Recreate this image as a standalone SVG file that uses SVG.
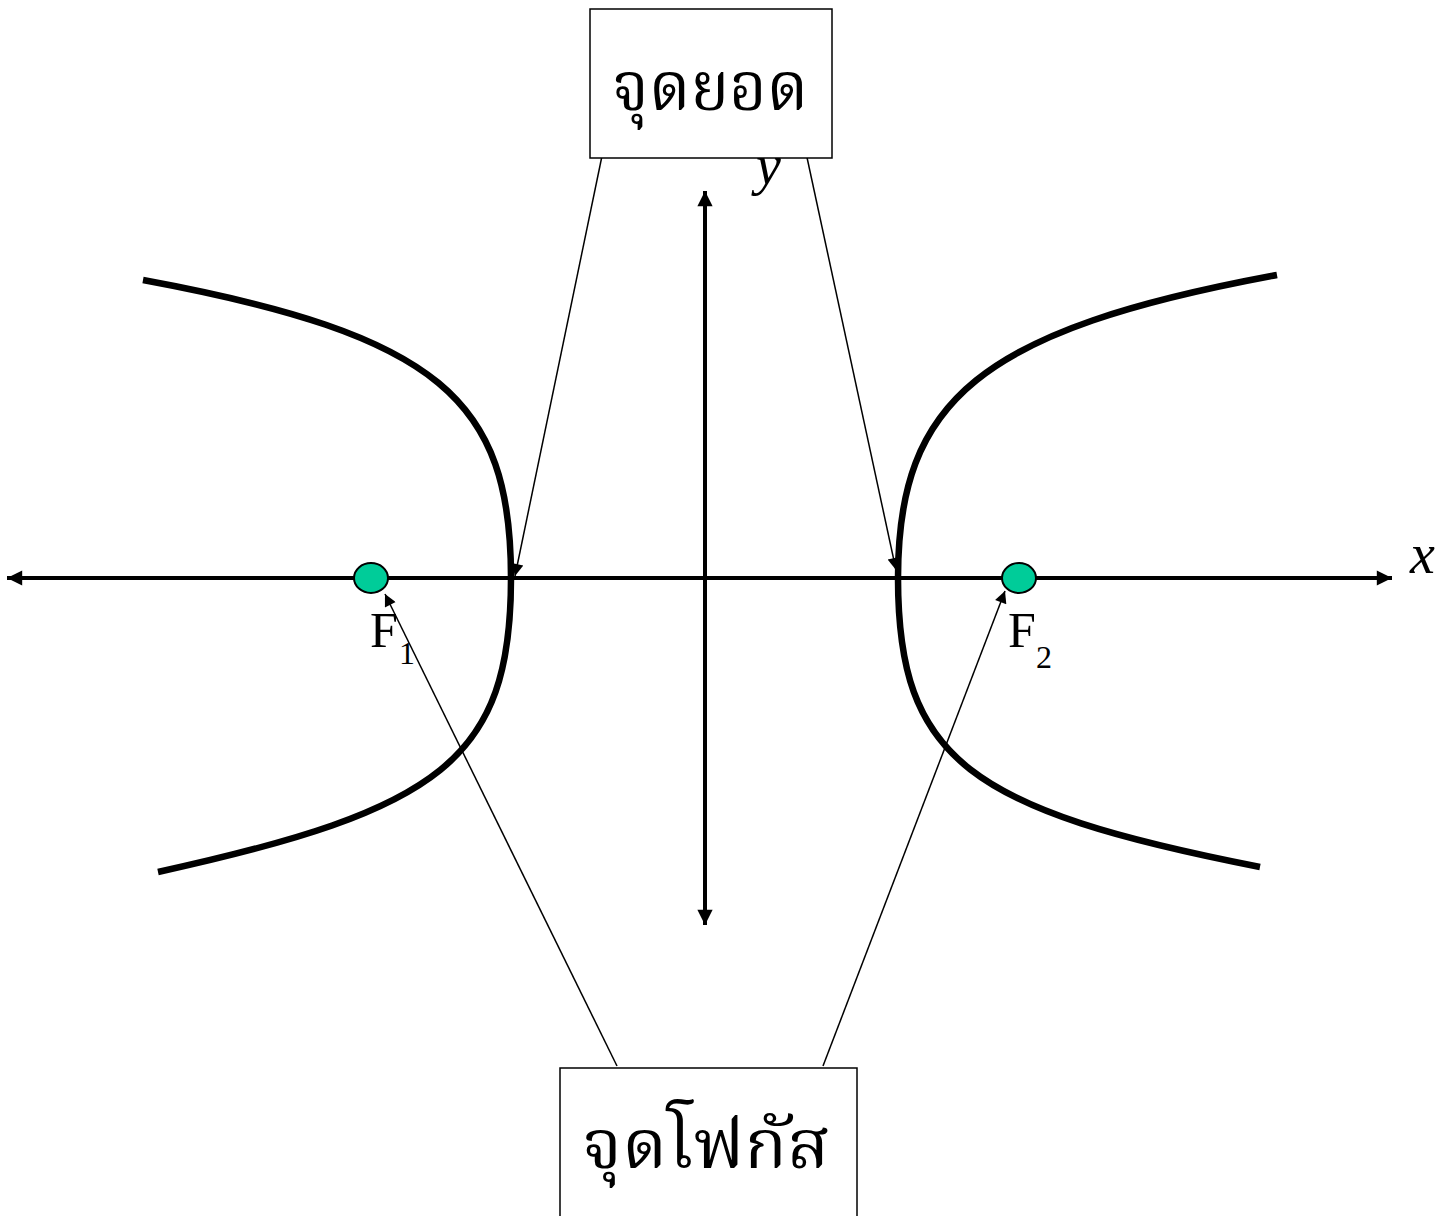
<svg xmlns="http://www.w3.org/2000/svg" width="1448" height="1216" viewBox="0 0 1448 1216">
<style>
.axis{stroke:#000;stroke-width:4;fill:none}
.curve{stroke:#000;stroke-width:6.5;fill:none}
.lead{stroke:#000;stroke-width:1.5;fill:none}
.box{fill:#fff;stroke:#000;stroke-width:1.5}
.thai{font-family:"Noto Serif Thai","Noto Sans Thai","DejaVu Sans","Liberation Serif",serif;fill:#000}
.tm{font-family:"Liberation Serif",serif;fill:#000}
.focus{fill:#00CC99;stroke:#000;stroke-width:2}
</style>
<defs>
<marker id="ah" viewBox="0 0 10 10" refX="10" refY="5" markerWidth="4.2" markerHeight="3.8" orient="auto-start-reverse" markerUnits="strokeWidth"><path d="M0,0 L10,5 L0,10 z" fill="#000"/></marker>
<marker id="lh" viewBox="0 0 10 10" refX="10" refY="5" markerWidth="11" markerHeight="8" orient="auto" markerUnits="strokeWidth"><path d="M0,0 L10,5 L0,10 z" fill="#000"/></marker>
</defs>
<g id="axes">
<line class="axis" x1="7" y1="578" x2="1392" y2="578" marker-start="url(#ah)" marker-end="url(#ah)"/>
<line class="axis" x1="705" y1="191" x2="705" y2="925" marker-start="url(#ah)" marker-end="url(#ah)"/>
<text class="tm" x="1410" y="573" font-size="56" font-style="italic">x</text>
<text class="tm" x="756" y="184" font-size="56" font-style="italic">y</text>
</g>
<g id="hyperbola">
<path class="curve" d="M143,280 C440,335 511,400 511,578 C511,760 440,810 158,872"/>
<path class="curve" d="M1277,275 C980,330 898,400 898,578 C898,760 970,810 1260,867"/>
</g>
<g id="focus1">
<ellipse class="focus" cx="371" cy="578" rx="17" ry="15"/>
<text class="tm" x="370" y="647" font-size="50">F</text>
<text class="tm" x="399" y="664" font-size="32">1</text>
</g>
<g id="focus2">
<ellipse class="focus" cx="1019" cy="578" rx="17" ry="15"/>
<text class="tm" x="1008" y="647" font-size="50">F</text>
<text class="tm" x="1036" y="668" font-size="32">2</text>
</g>
<g id="connectors">
<line class="lead" x1="608" y1="127" x2="515" y2="576" marker-end="url(#lh)"/>
<line class="lead" x1="800" y1="125" x2="896" y2="570" marker-end="url(#lh)"/>
<line class="lead" x1="617" y1="1066" x2="385" y2="594" marker-end="url(#lh)"/>
<line class="lead" x1="823" y1="1066" x2="1005" y2="591" marker-end="url(#lh)"/>
</g>
<g id="vertex-label">
<rect class="box" x="590" y="9" width="242" height="149"/>
<text class="thai" x="710" y="110" font-size="68" text-anchor="middle" textLength="196" lengthAdjust="spacingAndGlyphs">จุดยอด</text>
</g>
<g id="focus-label">
<rect class="box" x="560" y="1068" width="297" height="160"/>
<text class="thai" x="706" y="1168" font-size="68" text-anchor="middle" textLength="248" lengthAdjust="spacingAndGlyphs">จุดโฟกัส</text>
</g>
</svg>
